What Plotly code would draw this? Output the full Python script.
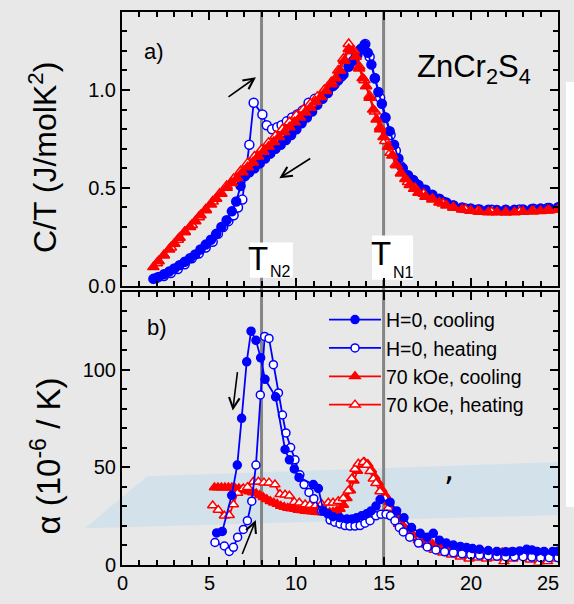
import plotly.graph_objects as go

# ---------------- specific heat, panel a) ----------------
T_c_h0 = [1.8, 2.1, 2.4, 2.7, 3.0, 3.3, 3.6, 3.9, 4.2, 4.5, 4.8, 5.1, 5.4, 5.7, 6.0, 6.3, 6.55, 6.8,
          7.05, 7.3, 7.6, 7.9, 8.2, 8.5, 8.8, 9.1, 9.4, 9.7, 10.0, 10.3, 10.6, 10.9, 11.2, 11.5, 11.8,
          12.1, 12.4, 12.7, 13.0, 13.25, 13.5, 13.7, 13.9, 14.1, 14.3, 14.5, 14.7, 14.9, 15.1, 15.35,
          15.6, 15.85, 16.1, 16.4, 16.7, 17.0, 17.4, 17.8, 18.2, 18.6, 19.0, 19.5, 20.0, 20.5, 21.0,
          21.5, 22.0, 22.5, 23.0, 23.5, 24.0, 24.5, 25.0]
C_c_h0 = [0.035, 0.045, 0.058, 0.072, 0.088, 0.105, 0.122, 0.14, 0.16, 0.185, 0.21, 0.235, 0.265, 0.3,
          0.335, 0.38, 0.43, 0.51, 0.56, 0.58, 0.6, 0.625, 0.65, 0.675, 0.7, 0.72, 0.745, 0.77, 0.8,
          0.83, 0.86, 0.89, 0.925, 0.955, 0.985, 1.02, 1.05, 1.08, 1.12, 1.15, 1.18, 1.21, 1.23, 1.19,
          1.13, 1.06, 0.99, 0.93, 0.86, 0.79, 0.72, 0.65, 0.6, 0.565, 0.54, 0.515, 0.49, 0.465, 0.445,
          0.425, 0.41, 0.4, 0.395, 0.39, 0.388, 0.387, 0.387, 0.388, 0.39, 0.392, 0.395, 0.397, 0.4]

T_h_h0 = [2.0, 2.4, 2.8, 3.2, 3.6, 4.0, 4.4, 4.8, 5.2, 5.5, 5.8, 6.1, 6.4, 6.65, 6.9, 7.3, 7.55, 8.05,
          8.3, 8.6, 8.9, 9.15, 9.45, 9.75, 10.05, 10.35, 10.7, 11.05, 11.4, 11.8, 12.2, 12.6, 13.0,
          13.4, 13.7, 13.95, 14.2, 14.5, 14.8, 15.1, 15.4, 15.7, 16.0, 16.4, 16.8, 17.3, 17.8, 18.4,
          19.0, 19.7, 20.4, 21.2, 22.0, 22.8, 23.6, 24.4, 25.0]
C_h_h0 = [0.04, 0.05, 0.065, 0.085, 0.11, 0.14, 0.165, 0.195, 0.225, 0.265, 0.3, 0.33, 0.36, 0.4,
          0.44, 0.72, 0.935, 0.875, 0.82, 0.8, 0.81, 0.82, 0.84, 0.86, 0.875, 0.895, 0.935, 0.955,
          0.965, 0.99, 1.03, 1.07, 1.12, 1.17, 1.21, 1.235, 1.17, 1.06, 0.96, 0.86, 0.77, 0.69, 0.61,
          0.56, 0.525, 0.49, 0.46, 0.43, 0.41, 0.395, 0.39, 0.388, 0.388, 0.39, 0.393, 0.397, 0.4]

T_c_70 = [1.8, 2.1, 2.4, 2.7, 3.0, 3.3, 3.6, 3.9, 4.2, 4.5, 4.8, 5.1, 5.4, 5.7, 6.0, 6.3, 6.6, 6.9,
          7.2, 7.5, 7.8, 8.1, 8.4, 8.7, 9.0, 9.3, 9.6, 9.9, 10.2, 10.5, 10.8, 11.1, 11.4, 11.7, 12.0,
          12.25, 12.5, 12.75, 13.0, 13.2, 13.4, 13.6, 13.8, 14.0, 14.2, 14.4, 14.6, 14.8, 15.0, 15.25,
          15.5, 15.75, 16.0, 16.25, 16.5, 16.75, 17.0, 17.4, 17.8, 18.2, 18.6, 19.0, 19.5, 20.0, 20.5,
          21.0, 21.5, 22.0, 22.5, 23.0, 23.5, 24.0, 24.5, 25.0]
C_c_70 = [0.095, 0.125, 0.155, 0.185, 0.215, 0.245, 0.275, 0.3, 0.33, 0.36, 0.385, 0.415, 0.445, 0.47,
          0.5, 0.525, 0.55, 0.58, 0.605, 0.63, 0.66, 0.685, 0.71, 0.735, 0.76, 0.785, 0.81, 0.835,
          0.86, 0.885, 0.91, 0.94, 0.965, 0.995, 1.03, 1.06, 1.1, 1.15, 1.21, 1.2, 1.17, 1.11, 1.06,
          1.02, 0.96, 0.9, 0.85, 0.8, 0.76, 0.71, 0.665, 0.615, 0.575, 0.545, 0.515, 0.495, 0.475,
          0.455, 0.44, 0.425, 0.41, 0.4, 0.39, 0.383, 0.378, 0.376, 0.375, 0.375, 0.376, 0.378, 0.38,
          0.382, 0.385, 0.388]

T_h_70 = [2.0, 2.4, 2.8, 3.2, 3.6, 4.0, 4.4, 4.8, 5.2, 5.6, 6.0, 6.4, 6.8, 7.2, 7.6, 8.0, 8.4, 8.8,
          9.2, 9.6, 10.0, 10.4, 10.8, 11.2, 11.6, 12.0, 12.4, 12.7, 13.0, 13.3, 13.6, 13.9, 14.2, 14.5,
          14.8, 15.1, 15.4, 15.7, 16.0, 16.4, 16.8, 17.3, 17.8, 18.4, 19.0, 19.7, 20.4, 21.2, 22.0,
          22.8, 23.6, 24.4, 25.0]
C_h_70 = [0.115, 0.155, 0.195, 0.235, 0.275, 0.31, 0.35, 0.39, 0.43, 0.47, 0.51, 0.545, 0.585,
          0.625, 0.66, 0.695, 0.73, 0.765, 0.8, 0.835, 0.87, 0.9, 0.93, 0.965, 1.0, 1.04, 1.1, 1.16,
          1.235, 1.2, 1.12, 1.05, 0.97, 0.89, 0.81, 0.74, 0.68, 0.62, 0.575, 0.53, 0.5, 0.47, 0.445,
          0.42, 0.4, 0.388, 0.38, 0.377, 0.376, 0.378, 0.38, 0.384, 0.388]

# ---------------- thermal expansion, panel b) ----------------
Ta_c_h0 = [5.43, 5.75, 6.29, 6.61, 6.86, 7.15, 7.4, 7.68, 7.95, 8.2, 8.81, 9.35, 9.6, 9.88, 10.15,
           10.97, 11.26, 11.55, 11.8, 12.1, 12.5, 12.9, 13.2, 13.45, 13.74, 14.03, 14.28, 14.56, 14.8,
           15.37, 15.75, 16.17, 16.6, 17.1, 17.5, 17.85, 18.2, 18.6, 19.0, 19.4, 19.76, 20.1, 20.5,
           21.0, 21.5, 22.0, 22.4, 22.8, 23.2, 23.5, 23.8, 24.2, 24.7, 25.0]
A_c_h0 = [16.2, 17, 35.5, 51, 75, 104, 119.7, 115, 106, 95, 86, 59, 53.7, 49, 44.7, 41, 39, 27.5, 26,
          24.5, 24, 23.3, 23.3, 24, 25, 26, 27.5, 30, 33.3, 32, 27.5, 24, 19, 16, 14, 16, 12.5, 11,
          10, 9.3, 8.7, 8.2, 7.8, 7.2, 6.7, 6.5, 6.7, 7, 7.8, 7.5, 6.7, 6.7, 6.7, 6.8]

Ta_h_h0 = [5.33, 5.87, 6.15, 6.39, 6.63, 6.96, 7.19, 7.44, 7.68, 7.93, 8.18, 8.43, 8.68, 8.97, 9.2,
           9.4, 9.67, 9.92, 10.2, 10.44, 10.72, 11.0, 11.45, 11.93, 12.2, 12.5, 12.79, 13.07, 13.36,
           13.65, 13.93, 14.22, 14.56, 14.85, 15.14, 15.4, 15.65, 15.9, 16.13, 16.5, 17.0, 17.5, 18.0,
           18.5, 19.0, 19.5, 20.0, 20.5, 21.0, 21.5, 22.0, 22.5, 23.0, 23.5, 24.0, 24.5, 25.0]
A_h_h0 = [11.3, 9.5, 6.7, 8.8, 14, 18, 22.5, 32.5, 51, 87, 117, 116, 102.5, 88, 76.7, 67.5, 60, 53.7,
          46, 41, 37, 33.8, 27.5, 22.8, 21.7, 20.8, 20, 19.7, 19.7, 20, 21.2, 22.5, 25, 25.8, 25.8,
          25, 22.5, 19, 16.7, 14, 11, 9, 7.5, 6.5, 6, 5.5, 5, 4.8, 4.5, 4.3, 4, 4, 4, 3.8, 3.5, 3.5,
          3.5]

Ta_c_70 = [5.3, 5.5, 5.7, 5.9, 6.1, 6.3, 6.5, 6.7, 6.9, 7.1, 7.3, 7.5, 7.7, 7.9, 8.1, 8.3, 8.5, 8.7,
           8.9, 9.1, 9.3, 9.5, 9.7, 9.9, 10.1, 10.3, 10.5, 10.7, 10.9, 11.1, 11.3, 11.5, 11.7, 11.9,
           12.1, 12.3, 12.5, 12.7, 12.9, 13.1, 13.3, 13.5, 13.7, 13.9, 14.1, 14.3, 14.5, 14.7, 14.9,
           15.1, 15.3, 15.5, 15.7, 15.9, 16.1, 16.3, 16.5, 16.7, 16.9, 17.2, 17.5, 17.8, 18.1, 18.4,
           18.7, 19.0, 19.4, 19.8, 20.2, 20.6, 21.0, 21.4, 21.8, 22.2, 22.6, 23.0, 23.4, 23.8, 24.2,
           24.6, 25.0]
A_c_70 = [39.5, 39.5, 39.5, 39.5, 39.5, 39.5, 39, 39, 38.5, 38, 37.5, 37, 36.5, 35.5, 34.5, 33.5,
          32.5, 31.7, 31, 30, 29.5, 29, 28.8, 28.5, 28, 27.8, 27.5, 27.3, 27.2, 27, 26.8, 26.7, 26.7,
          26.8, 27, 27.5, 28.5, 30.5, 34, 38, 43, 48, 51, 52.5, 51.5, 48.5, 45, 42, 38.5, 35.5, 32,
          28.5, 25.5, 22.5, 20, 18, 16.5, 15, 14, 12.5, 11.5, 10.5, 9.8, 9.2, 8.7, 8.2, 7.8, 7.4, 7,
          6.8, 6.5, 6.3, 6.2, 6, 5.8, 5.7, 5.6, 5.5, 5.4, 5.3, 5.2]

Ta_h_70 = [5.2, 5.52, 5.87, 6.15, 6.39, 6.63, 6.96, 7.2, 7.53, 7.82, 8.14, 8.43, 8.77, 9.06, 9.35,
           9.6, 9.88, 10.17, 10.5, 10.78, 11.1, 11.45, 11.83, 12.1, 12.4, 12.69, 12.98, 13.17, 13.36,
           13.55, 13.84, 14.03, 14.22, 14.41, 14.56, 14.79, 15.08, 15.27, 15.56, 15.85, 16.23, 16.6,
           16.99, 17.47, 17.9, 18.4, 18.9, 19.4, 19.9, 20.4, 20.9, 21.4, 21.9, 22.4, 22.9, 23.4,
           23.9, 24.4, 24.8]
A_h_70 = [30.3, 28, 25, 25.3, 30.8, 36.7, 39, 39.7, 42.5, 42.5, 42, 42, 41, 36, 35.8, 35.3, 32,
          31.7, 30.8, 30.5, 30.3, 31, 31.7, 31.7, 32.5, 34, 37.8, 44, 49, 51.7, 52.5, 51, 47.8, 44,
          41.7, 37.5, 34, 29, 24.5, 20.8, 16.7, 14, 12.5, 10, 7.5, 6, 5, 4, 3, 3.5, 3, 3.5, 1.5, 3,
          4, 2.5, 1, 1.5, 3]

T_N = [8, 15]                 # transition temperatures T_N2, T_N1
X_TICKS = [0, 5, 10, 15, 20, 25]

BLUE = "#0000ff"
RED = "#ff0000"
BG = "#e8e8e8"
FONT = "Arial, Liberation Sans, sans-serif"

labels = ["H=0, cooling", "H=0, heating", "70 kOe, cooling", "70 kOe, heating"]

W, H = 560, 604


def px(x):
    return x / W


def py(y):
    return 1 - y / H


def series(x, y, xa, ya, color, symbol, filled, size, name, show, rank):
    return go.Scatter(
        x=x, y=y, xaxis=xa, yaxis=ya, mode="lines+markers", name=name,
        showlegend=show, legendrank=rank,
        line=dict(color=color, width=1.8),
        marker=dict(symbol=symbol, size=size,
                    color=color if filled else "white",
                    line=dict(color=color, width=1.5)),
    )


fig = go.Figure()

# panel a)
fig.add_trace(series(T_h_h0, C_h_h0, "x", "y", BLUE, "circle", False, 9, labels[1], False, 2))
fig.add_trace(series(T_c_h0, C_c_h0, "x", "y", BLUE, "circle", True, 9, labels[0], False, 1))
fig.add_trace(series(T_h_70, C_h_70, "x", "y", RED, "triangle-up", False, 10, labels[3], False, 4))
fig.add_trace(series(T_c_70, C_c_70, "x", "y", RED, "triangle-up", True, 10, labels[2], False, 3))

# panel b)
fig.add_trace(series(Ta_c_70, A_c_70, "x2", "y2", RED, "triangle-up", True, 9, labels[2], True, 3))
fig.add_trace(series(Ta_h_70, A_h_70, "x2", "y2", RED, "triangle-up", False, 9, labels[3], True, 4))
fig.add_trace(series(Ta_h_h0, A_h_h0, "x2", "y2", BLUE, "circle", False, 8, labels[1], True, 2))
fig.add_trace(series(Ta_c_h0, A_c_h0, "x2", "y2", BLUE, "circle", True, 8, labels[0], True, 1))

XD = [px(122), px(558)]
YD_A = [py(291), py(12)]
YD_B = [py(575), py(297)]

axis_common = dict(
    showline=True, linecolor="black", linewidth=2, mirror="ticks",
    ticks="inside", ticklen=8, tickwidth=2, tickcolor="black",
    showgrid=False, zeroline=False,
    tickfont=dict(family=FONT, size=20, color="black"),
)
minor_common = dict(ticks="inside", ticklen=5, tickwidth=1.5, tickcolor="black")

fig.update_layout(
    width=W, height=H,
    margin=dict(l=0, r=0, t=0, b=0),
    paper_bgcolor=BG, plot_bgcolor="rgba(0,0,0,0)",
    font=dict(family=FONT, color="black"),
    xaxis=dict(domain=XD, anchor="y", range=[0, 25], tickvals=X_TICKS, showticklabels=False,
               minor=dict(dtick=1, **minor_common), **axis_common),
    yaxis=dict(domain=YD_A, anchor="x", range=[0, 1.4], dtick=0.5, tickformat=".1f",
               minor=dict(dtick=0.1, **minor_common), **axis_common),
    xaxis2=dict(domain=XD, anchor="y2", range=[0, 25], tickvals=X_TICKS, showticklabels=False,
                minor=dict(dtick=1, **minor_common), **axis_common),
    yaxis2=dict(domain=YD_B, anchor="x2", range=[0, 140], dtick=50,
                minor=dict(dtick=10, **minor_common), **axis_common),
    legend=dict(x=px(324), y=py(306), xanchor="left", yanchor="top", bgcolor="rgba(0,0,0,0)",
                font=dict(family=FONT, size=19.5), itemwidth=52, tracegroupgap=0),
)

# background band, transition lines and label boxes
shapes = [
    dict(type="path", xref="paper", yref="paper", layer="below",
         path=f"M {px(85)},{py(538)} L {px(147)},{py(485)} L 1,{py(470.5)} L 1,{py(524.5)} Z",
         fillcolor="#d3e2ea", line=dict(width=0)),
]
for t in T_N:
    shapes.append(dict(type="line", xref="x", yref="paper", layer="below",
                       x0=t, x1=t, y0=YD_B[0], y1=YD_A[1],
                       line=dict(color="#858585", width=3)))
for (x0, x1, y0, y1) in [(7.34, 9.8, 0.04, 0.221), (14.33, 16.69, 0.03, 0.256)]:
    shapes.append(dict(type="rect", xref="x", yref="y", layer="below",
                       x0=x0, x1=x1, y0=y0, y1=y1, fillcolor="white", line=dict(width=0)))
fig.update_layout(shapes=shapes)

center = dict(xanchor="center", yanchor="middle", showarrow=False)
ann = [
    dict(text="a)", xref="paper", yref="paper", x=px(154), y=py(52), font=dict(size=22), **center),
    dict(text="b)", xref="paper", yref="paper", x=px(157), y=py(334), font=dict(size=22), **center),
    dict(text="ZnCr<sub>2</sub>S<sub>4</sub>", xref="paper", yref="paper",
         x=px(474), y=py(70), font=dict(size=31), **center),
    dict(text="T", xref="x", yref="y", x=8.43, y=0.14, font=dict(size=33),
         xanchor="right", yanchor="middle", showarrow=False, borderpad=0),
    dict(text="N2", xref="x", yref="y", x=8.43, y=0.072, font=dict(size=16),
         xanchor="left", yanchor="middle", showarrow=False, borderpad=0),
    dict(text="T", xref="x", yref="y", x=15.48, y=0.165, font=dict(size=33),
         xanchor="right", yanchor="middle", showarrow=False, borderpad=0),
    dict(text="N1", xref="x", yref="y", x=15.48, y=0.065, font=dict(size=16),
         xanchor="left", yanchor="middle", showarrow=False, borderpad=0),
    dict(text="C/T (J/molK<sup>2</sup>)", xref="paper", yref="paper",
         x=px(43), y=py(161), textangle=-90, font=dict(size=32), **center),
    dict(text="\u03b1 (10<sup>-6</sup> / K)", xref="paper", yref="paper",
         x=px(46), y=py(465), textangle=-90, font=dict(size=33), **center),
    dict(text=",", xref="paper", yref="paper", x=px(449), y=py(478),
         font=dict(size=32, family="DejaVu Sans"), **center),
]
# temperature tick labels under panel b); the last one is kept inside the figure edge
for v in X_TICKS:
    last = v == X_TICKS[-1]
    ann.append(dict(text=str(v), xref="paper" if last else "x2", yref="paper",
                    x=1 if last else v, y=py(594), font=dict(size=20),
                    xanchor="right" if last else "center", yanchor="middle",
                    showarrow=False, borderpad=0))

# arrows marking the sweep direction
arrow_style = dict(showarrow=True, arrowhead=5, arrowsize=1.3, arrowwidth=1.6,
                   arrowcolor="black", text="", standoff=0, startstandoff=0)
for (hx, hy, tx, ty, xr, yr) in [(7.68, 1.065, 6.02, 0.96, "x", "y"),
                                 (9.02, 0.549, 10.88, 0.655, "x", "y"),
                                 (6.35, 79, 6.63, 99.5, "x2", "y2"),
                                 (7.67, 22.8, 6.86, 4.6, "x2", "y2")]:
    ann.append(dict(x=hx, y=hy, ax=tx, ay=ty, xref=xr, yref=yr, axref=xr, ayref=yr,
                    **arrow_style))
fig.update_layout(annotations=ann)

# page background continues the figure background, with the pale strip on the right
page_bg = "linear-gradient(#ffffff,#ffffff) 566px 82px / 8px 425px no-repeat, " + BG
fig.write_html(
    "out.html",
    post_script=f"document.documentElement.style.background='{page_bg}';"
                "document.body.style.margin='0';",
)
